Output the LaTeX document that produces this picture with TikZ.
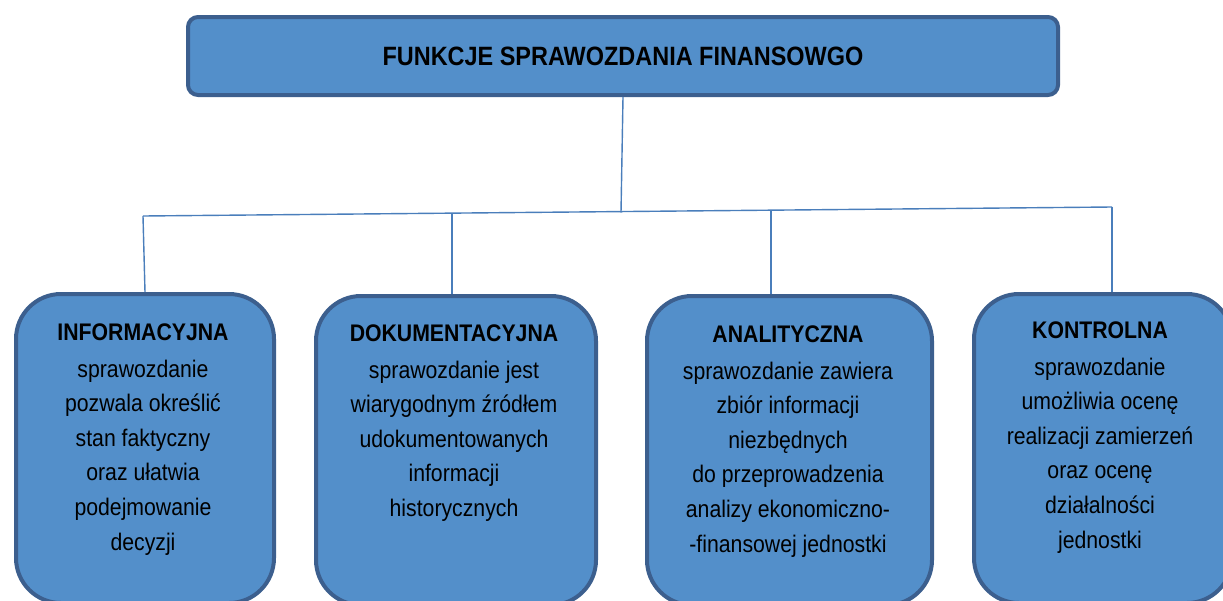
\documentclass[tikz,border=0pt]{standalone}
\usepackage{fontspec}
\setmainfont{Liberation Sans}[FakeStretch=0.885]
\definecolor{boxfill}{RGB}{83,143,202}
\definecolor{boxline}{RGB}{60,95,142}
\definecolor{connline}{RGB}{74,126,187}
\begin{document}
\begin{tikzpicture}[x=1pt,y=-1pt,
  topbox/.style={draw=boxline, fill=boxfill, line width=4pt, rounded corners=10pt,
    minimum width=870pt, minimum height=78pt, inner sep=0pt, anchor=north west,
    font=\fontsize{26.5}{30}\selectfont\bfseries},
  fbox/.style={draw=boxline, fill=boxfill, line width=4pt, rounded corners=45pt,
    minimum height=309pt, inner sep=0pt, anchor=north west},
  txt/.style={align=center, inner sep=0pt, anchor=north,
    font=\fontsize{24}{34.6}\selectfont},
  conn/.style={draw=connline, line width=1.4pt}
]
\useasboundingbox (0,0) rectangle (1223,600);

\node[topbox] (top) at (186,15) {FUNKCJE SPRAWOZDANIA FINANSOWGO};

\node[fbox, minimum width=258pt] (b1) at (14,292) {};
\node[fbox, minimum width=280pt] (b2) at (314,294) {};
\node[fbox, minimum width=285pt] (b3) at (645,294) {};
\node[fbox, minimum width=258pt] (b4) at (972,292) {};

\coordinate (h1) at (143,216);
\coordinate (h2) at (452,214);
\coordinate (hc) at (621,212.5);
\coordinate (h3) at (771,211);
\coordinate (h4) at (1112,207);

\draw[conn] (top.south) -- (hc);
\draw[conn] (h1) -- (h4);
\draw[conn] (h1) -- (b1.north);
\draw[conn] (h2) -- (h2 |- b2.north);
\draw[conn] (h3) -- (h3 |- b3.north);
\draw[conn] (h4) -- (h4 |- b4.north);

\node[txt] (t1) at (143,324) {\textbf{INFORMACYJNA}\\[1.5pt]sprawozdanie\\pozwala określić\\stan faktyczny\\oraz ułatwia\\podejmowanie\\decyzji};
\node[txt] (t2) at (454,325) {\textbf{DOKUMENTACYJNA}\\[1.5pt]sprawozdanie jest\\wiarygodnym źródłem\\udokumentowanych\\informacji\\historycznych};
\node[txt] (t3) at (788,326) {\textbf{ANALITYCZNA}\\[1.5pt]sprawozdanie zawiera\\zbiór informacji\\niezbędnych\\do przeprowadzenia\\analizy ekonomiczno-\\-finansowej jednostki};
\node[txt] (t4) at (1100,322) {\textbf{KONTROLNA}\\[1.5pt]sprawozdanie\\umożliwia ocenę\\realizacji zamierzeń\\oraz ocenę\\działalności\\jednostki};
\end{tikzpicture}
\end{document}
